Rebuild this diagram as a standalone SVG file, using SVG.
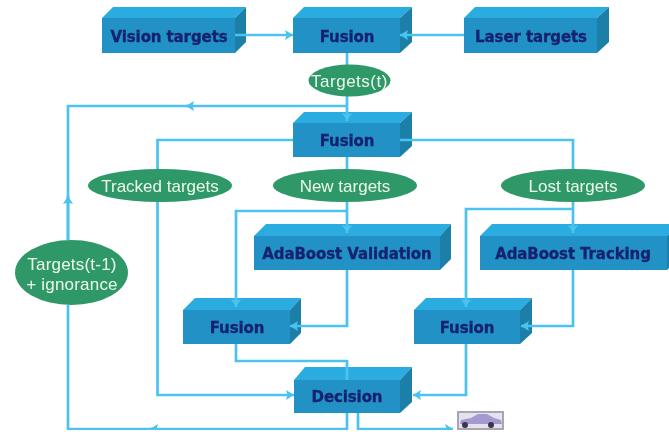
<svg xmlns="http://www.w3.org/2000/svg" width="669" height="434" viewBox="0 0 669 434">
<style>
.front{fill:#2292c6}.top{fill:#2aace0}.side{fill:#1d7fa8}
.box{font:bold 15px "DejaVu Sans","Liberation Sans",sans-serif;fill:#15216f;stroke:#15216f;stroke-width:.3;text-anchor:middle;letter-spacing:-.1px}
.el{fill:#2e9868}
.lab{font:17px "Liberation Sans",Arial,sans-serif;fill:#eef7ee;text-anchor:middle}
.lab2{letter-spacing:.2px}
.c{fill:none;stroke:#4cc3ee;stroke-width:2.700}
.a{marker-end:url(#arr)}
</style>
<defs>
<marker id="arr" markerUnits="userSpaceOnUse" markerWidth="11" markerHeight="11" refX="8" refY="5.500" orient="auto"><path d="M0 0.500L8 5.500L0 10.500L1.500 5.500Z" fill="#4cc3ee"/></marker>
<filter id="soft" x="0" y="0" width="100%" height="100%"><feGaussianBlur stdDeviation="0.500"/></filter>
</defs>
<rect width="669" height="434" fill="#fff"/>
<g filter="url(#soft)">
<g id="vision"><rect class="front" x="102" y="18" width="133" height="35"/><path class="top" d="M102 18L113 7H246L235 18Z"/><path class="side" d="M235 18L246 7V42L235 53Z"/><text class="box" x="169" y="42">Vision targets</text></g>
<g id="fusion1"><rect class="front" x="293" y="18" width="107" height="35"/><path class="top" d="M293 18L304 7H412L400 18Z"/><path class="side" d="M400 18L412 7V42L400 53Z"/><text class="box" x="347" y="42">Fusion</text></g>
<g id="laser"><rect class="front" x="464" y="18" width="133" height="35"/><path class="top" d="M464 18L475 7H609L597 18Z"/><path class="side" d="M597 18L609 7V42L597 53Z"/><text class="box" x="531" y="42">Laser targets</text></g>
<g id="fusion2"><rect class="front" x="293" y="123" width="107" height="34"/><path class="top" d="M293 123L304 112H412L400 123Z"/><path class="side" d="M400 123L412 112V146L400 157Z"/><text class="box" x="347" y="146">Fusion</text></g>
<g id="validation"><rect class="front" x="254" y="236" width="186" height="34"/><path class="top" d="M254 236L266 224H451L440 236Z"/><path class="side" d="M440 236L451 224V259L440 270Z"/><text class="box" x="347" y="259">AdaBoost Validation</text></g>
<g id="tracking"><rect class="front" x="480" y="236" width="187" height="34"/><path class="top" d="M480 236L492 224H678L667 236Z"/><path class="side" d="M667 236L678 224V259L667 270Z"/><text class="box" x="573" y="259">AdaBoost Tracking</text></g>
<g id="fusion3"><rect class="front" x="183" y="310" width="107" height="34"/><path class="top" d="M183 310L195 298H301L290 310Z"/><path class="side" d="M290 310L301 298V333L290 344Z"/><text class="box" x="237" y="333">Fusion</text></g>
<g id="fusion4"><rect class="front" x="414" y="310" width="106" height="34"/><path class="top" d="M414 310L426 298H532L520 310Z"/><path class="side" d="M520 310L532 298V333L520 344Z"/><text class="box" x="467" y="333">Fusion</text></g>
<g id="decision"><rect class="front" x="294" y="380" width="106" height="33"/><path class="top" d="M294 380L305 367H412L400 380Z"/><path class="side" d="M400 380L412 367V402L400 413Z"/><text class="box" x="347" y="402">Decision</text></g>
<g id="connectors">
<path class="c a" d="M235 35H293"/>
<path class="c a" d="M464 35H400"/>
<path class="c a" d="M347 53V121"/>
<path class="c a" d="M347 106H186"/>
<path class="c" d="M192 106H68V240"/>
<path class="c a" d="M68 240V196"/>
<path class="c a" d="M347 413V429H150"/>
<path class="c" d="M155 429H68V305"/>
<path class="c a" d="M293 140H157.500V395H294"/>
<path class="c" d="M400 140H573V224"/>
<path class="c a" d="M573 224V233"/>
<path class="c a" d="M347 157V233"/>
<path class="c" d="M347 211H236V298"/>
<path class="c a" d="M236 298V307"/>
<path class="c a" d="M347 270V326H290"/>
<path class="c" d="M236 344V361H347V380"/>
<path class="c" d="M573 209H466V298"/>
<path class="c a" d="M466 298V307"/>
<path class="c a" d="M573 270V326H521"/>
<path class="c a" d="M466 344V395H413"/>
<path class="c a" d="M358 413V429H453"/>
</g>
<g id="targets-t"><ellipse class="el" cx="349.500" cy="80.500" rx="41" ry="16"/><text class="lab" x="349.500" y="87" letter-spacing=".5">Targets(t)</text></g>
<g id="tracked"><ellipse class="el" cx="160" cy="185.500" rx="72" ry="16.500"/><text class="lab" x="160" y="192">Tracked targets</text></g>
<g id="new"><ellipse class="el" cx="345" cy="185.500" rx="72" ry="16.500"/><text class="lab" x="345" y="192">New targets</text></g>
<g id="lost"><ellipse class="el" cx="573" cy="185.500" rx="72" ry="16.500"/><text class="lab" x="573" y="192">Lost targets</text></g>
<g id="targets-prev"><ellipse class="el" cx="71.500" cy="272.500" rx="56.500" ry="32.500"/><text class="lab lab2" x="72" y="270">Targets(t-1)</text><text class="lab lab2" x="72" y="290">+ ignorance</text></g>
<g id="car"><rect x="457" y="411" width="47" height="19" fill="#a9a6b0"/><rect x="459" y="413" width="43" height="15" fill="#e4e2ee"/><path d="M460 424L461 420L471 418L478 414H487L494 418L501 420L502 424Z" fill="#a59ad0"/><circle cx="465" cy="425" r="3" fill="#3a3550"/><circle cx="491" cy="425" r="3" fill="#3a3550"/></g>
</g>
</svg>
